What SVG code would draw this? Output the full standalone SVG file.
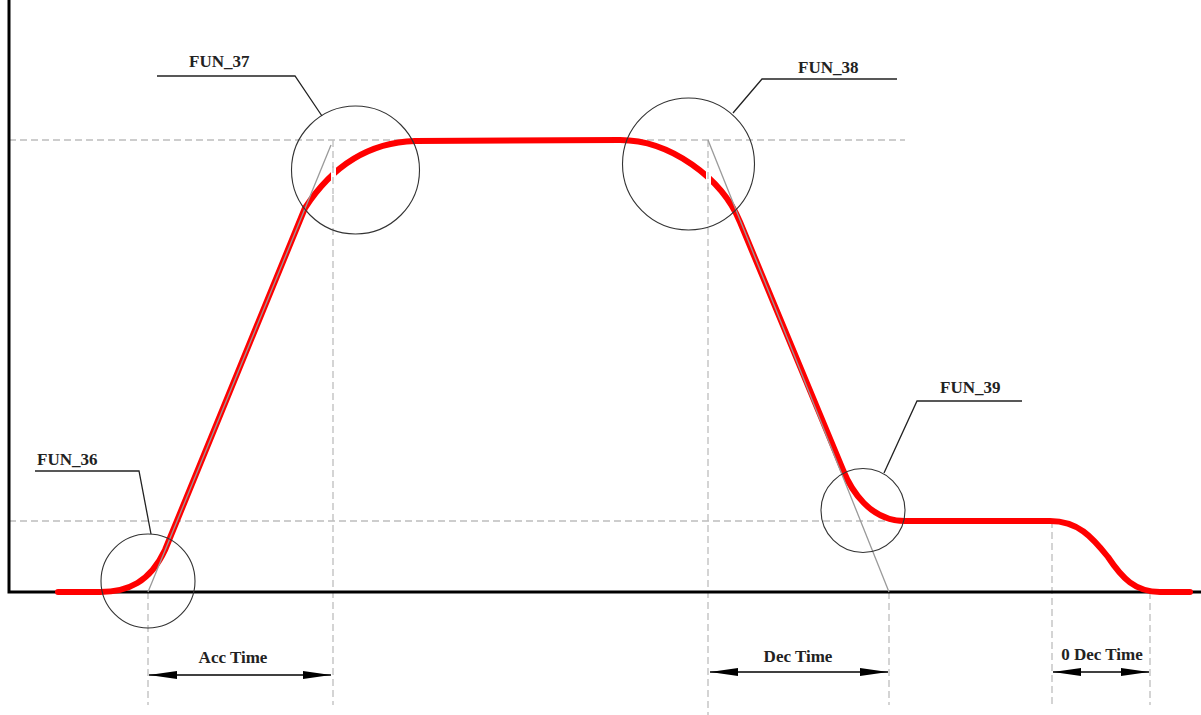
<svg xmlns="http://www.w3.org/2000/svg" width="1201" height="715" viewBox="0 0 1201 715">
<style>
.guide{stroke:#bdbdbd;stroke-width:1.3;stroke-dasharray:7,4;fill:none}
.tan{stroke:#9a9a9a;stroke-width:1.3;fill:none}
.axis{stroke:#000;stroke-width:3;fill:none}
.curve{stroke:#ff0000;stroke-width:6;fill:none;stroke-linecap:round;stroke-linejoin:round}
.gap{stroke:#fff;stroke-width:5}
.ring{stroke:#333;stroke-width:1.1;fill:none}
.lead{stroke:#222;stroke-width:1.3;fill:none}
.dim{stroke:#000;stroke-width:1.3;fill:none;marker-start:url(#ah);marker-end:url(#ah)}
.lbl{font-family:"Liberation Serif",serif;font-weight:bold;font-size:17px;fill:#222}
.mid{text-anchor:middle}
</style>
<defs>
<marker id="ah" markerUnits="userSpaceOnUse" markerWidth="30" markerHeight="8" refX="28" refY="4" orient="auto-start-reverse">
<path d="M0,0 L28,4 L0,8 Z" fill="#000"/>
</marker>
</defs>
<rect width="1201" height="715" fill="#fff"/>
<g id="guides">
<line class="guide" x1="9" y1="140" x2="905" y2="140"/>
<line class="guide" x1="9" y1="521" x2="905" y2="521"/>
<line class="guide" x1="148" y1="592" x2="148" y2="705"/>
<line class="guide" x1="333" y1="140" x2="333" y2="705"/>
<line class="guide" x1="708" y1="140" x2="708" y2="715"/>
<line class="guide" x1="889" y1="592" x2="889" y2="705"/>
<line class="guide" x1="1052" y1="521" x2="1052" y2="705"/>
<line class="guide" x1="1150" y1="592" x2="1150" y2="705"/>
</g>
<g id="axes">
<polyline class="axis" points="9,0 9,592 1201,592"/>
</g>
<g id="speed-curve">
<path class="curve" d="M58,592 L100,592 C128,592 150,582 165,550 L305,208 C318,188 350,143 415,141 L620,140 C670,140 722,178 740,222 L843,470 C851,490 870,521 905,521 L1050,521 C1078,521 1092,537 1108,557 C1122,578 1135,592 1160,592 L1190,592"/>
<line class="gap" x1="333.5" y1="168" x2="333.5" y2="192"/>
<line class="gap" x1="708.5" y1="163" x2="708.5" y2="187"/>
<line class="guide" x1="333" y1="166" x2="333" y2="194"/>
<line class="guide" x1="708" y1="161" x2="708" y2="189"/>
</g>
<g id="tangents">
<line class="tan" x1="148" y1="592" x2="331" y2="145"/>
<line class="tan" x1="708" y1="140" x2="889" y2="592"/>
</g>
<g id="FUN_36">
<circle class="ring" cx="148" cy="581" r="47"/>
<polyline class="lead" points="35,471 139,471 151,534"/>
<text class="lbl" x="37" y="465">FUN_36</text>
</g>
<g id="FUN_37">
<circle class="ring" cx="355.5" cy="170" r="64"/>
<polyline class="lead" points="157,76 295,76 322,116"/>
<text class="lbl" x="189" y="67">FUN_37</text>
</g>
<g id="FUN_38">
<circle class="ring" cx="688.5" cy="164" r="66"/>
<polyline class="lead" points="897,79 762,79 733,113"/>
<text class="lbl" x="798" y="73">FUN_38</text>
</g>
<g id="FUN_39">
<circle class="ring" cx="863" cy="510.5" r="42"/>
<polyline class="lead" points="1022,401 917,401 884,473"/>
<text class="lbl" x="940" y="393">FUN_39</text>
</g>
<g id="acc-time">
<line class="dim" x1="149" y1="675" x2="331" y2="675"/>
<text class="lbl mid" x="233" y="663">Acc Time</text>
</g>
<g id="dec-time">
<line class="dim" x1="710" y1="672" x2="888" y2="672"/>
<text class="lbl mid" x="798" y="662">Dec Time</text>
</g>
<g id="zero-dec-time">
<line class="dim" x1="1053" y1="672" x2="1149" y2="672"/>
<text class="lbl mid" x="1102" y="660">0 Dec Time</text>
</g>
</svg>
